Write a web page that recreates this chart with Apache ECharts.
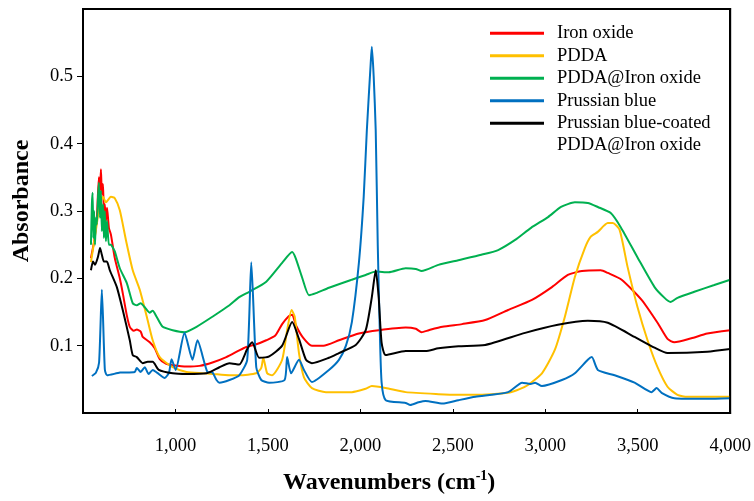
<!DOCTYPE html>
<html>
<head>
<meta charset="utf-8">
<script src="https://cdn.jsdelivr.net/npm/echarts@6/dist/echarts.min.js"></script>
<style>
  html, body { margin: 0; padding: 0; background: #fff; }
  #main { width: 754px; height: 501px; }
</style>
</head>
<body>
<div id="main"></div>
<script>
// names + colours of the five spectra
const seriesNames = [
  "Iron oxide",
  "PDDA",
  "PDDA@Iron oxide",
  "Prussian blue",
  "Prussian blue-coated PDDA@Iron oxide",
];
const seriesColors = ["#FF0000", "#FFC000", "#00B050", "#0070C0", "#000000"];

// tick positions that carry a label
const xTicks = [1000, 1500, 2000, 2500, 3000, 3500, 4000];
const yTicks = [0.1, 0.2, 0.3, 0.4, 0.5];

// [wavenumber (cm-1), absorbance]
const ironOxide = [
  [543, 0.230], [560, 0.255], [575, 0.290], [586, 0.350], [592, 0.330], [597, 0.362],
  [602, 0.325], [608, 0.340], [613, 0.300], [618, 0.310], [624, 0.285], [630, 0.305],
  [640, 0.275], [651, 0.265], [672, 0.230], [699, 0.200], [715, 0.178], [737, 0.145],
  [753, 0.128], [775, 0.122], [791, 0.124], [812, 0.121], [823, 0.113], [861, 0.105],
  [888, 0.096], [915, 0.080], [950, 0.073], [985, 0.071], [1060, 0.069], [1130, 0.070],
  [1200, 0.075], [1275, 0.083], [1345, 0.093], [1383, 0.098], [1437, 0.102], [1491, 0.108],
  [1540, 0.115], [1577, 0.132], [1610, 0.143], [1631, 0.146], [1652, 0.130], [1690, 0.112],
  [1738, 0.100], [1800, 0.100], [1884, 0.108], [1992, 0.118], [2099, 0.123], [2245, 0.127],
  [2300, 0.125], [2331, 0.120], [2370, 0.123], [2444, 0.128], [2550, 0.132], [2675, 0.138],
  [2799, 0.153], [2928, 0.168], [3036, 0.187], [3122, 0.205], [3198, 0.211], [3300, 0.212],
  [3338, 0.208], [3413, 0.198], [3521, 0.168], [3607, 0.134], [3661, 0.110], [3698, 0.105],
  [3790, 0.111], [3876, 0.118], [4000, 0.123],
];
const pdda = [
  [543, 0.224], [570, 0.272], [592, 0.312], [608, 0.321], [624, 0.313], [651, 0.321],
  [672, 0.319], [699, 0.301], [732, 0.257], [769, 0.212], [807, 0.183], [845, 0.143],
  [877, 0.108], [915, 0.083], [985, 0.068], [1060, 0.061], [1146, 0.059], [1200, 0.058],
  [1292, 0.056], [1345, 0.056], [1437, 0.059], [1464, 0.067], [1475, 0.082], [1496, 0.059],
  [1523, 0.056], [1577, 0.079], [1604, 0.123], [1628, 0.153], [1645, 0.143], [1668, 0.089],
  [1695, 0.053], [1738, 0.037], [1814, 0.031], [1954, 0.031], [2029, 0.036], [2062, 0.040],
  [2137, 0.037], [2245, 0.031], [2422, 0.028], [2530, 0.027], [2622, 0.027], [2799, 0.030],
  [2891, 0.039], [2982, 0.059], [3052, 0.094], [3106, 0.143], [3160, 0.202], [3214, 0.245],
  [3246, 0.262], [3284, 0.269], [3338, 0.282], [3365, 0.282], [3402, 0.272], [3445, 0.217],
  [3499, 0.157], [3553, 0.108], [3607, 0.068], [3661, 0.039], [3715, 0.027], [3768, 0.024],
  [4000, 0.024],
];
const pddaIronOxide = [
  [543, 0.250], [548, 0.310], [552, 0.327], [556, 0.260], [560, 0.300], [565, 0.250],
  [570, 0.290], [575, 0.280], [581, 0.320], [586, 0.342], [592, 0.290], [597, 0.330],
  [602, 0.270], [608, 0.310], [613, 0.260], [618, 0.300], [624, 0.255], [630, 0.285],
  [640, 0.250], [651, 0.250], [662, 0.245], [672, 0.240], [699, 0.215], [737, 0.193],
  [769, 0.163], [791, 0.160], [812, 0.163], [834, 0.157], [860, 0.149], [877, 0.152],
  [898, 0.143], [931, 0.128], [985, 0.123], [1049, 0.120], [1114, 0.128], [1200, 0.143],
  [1292, 0.160], [1345, 0.172], [1399, 0.180], [1491, 0.195], [1577, 0.223], [1631, 0.239],
  [1650, 0.230], [1684, 0.202], [1722, 0.175], [1760, 0.178], [1830, 0.186], [1954, 0.198],
  [2029, 0.205], [2083, 0.210], [2153, 0.209], [2245, 0.215], [2300, 0.214], [2331, 0.211],
  [2422, 0.220], [2530, 0.227], [2654, 0.235], [2745, 0.242], [2837, 0.257], [2923, 0.275],
  [3015, 0.291], [3085, 0.306], [3160, 0.313], [3230, 0.312], [3284, 0.306], [3354, 0.297],
  [3408, 0.276], [3499, 0.231], [3591, 0.187], [3645, 0.171], [3677, 0.165], [3715, 0.171],
  [3806, 0.180], [3914, 0.190], [4000, 0.198],
];
const prussianBlue = [
  [548, 0.055], [570, 0.060], [587, 0.075], [602, 0.183], [618, 0.065], [630, 0.056],
  [700, 0.060], [780, 0.061], [791, 0.067], [812, 0.061], [834, 0.068], [855, 0.058],
  [877, 0.064], [900, 0.060], [942, 0.052], [965, 0.060], [979, 0.080], [1001, 0.064],
  [1049, 0.119], [1092, 0.079], [1119, 0.108], [1173, 0.061], [1200, 0.060], [1222, 0.049],
  [1238, 0.045], [1292, 0.049], [1345, 0.056], [1388, 0.079], [1410, 0.224], [1437, 0.068],
  [1464, 0.049], [1507, 0.045], [1590, 0.049], [1604, 0.083], [1625, 0.059], [1668, 0.079],
  [1695, 0.064], [1738, 0.046], [1830, 0.064], [1884, 0.079], [1922, 0.100], [1954, 0.135],
  [1992, 0.223], [2018, 0.321], [2035, 0.420], [2056, 0.520], [2062, 0.544], [2072, 0.500],
  [2083, 0.420], [2094, 0.250], [2105, 0.123], [2115, 0.045], [2137, 0.019], [2245, 0.015],
  [2270, 0.012], [2315, 0.016], [2352, 0.018], [2444, 0.014], [2530, 0.019], [2622, 0.024],
  [2799, 0.031], [2875, 0.045], [2920, 0.043], [2945, 0.045], [2982, 0.040], [3090, 0.049],
  [3160, 0.059], [3230, 0.079], [3252, 0.083], [3284, 0.064], [3375, 0.056], [3483, 0.045],
  [3575, 0.031], [3602, 0.037], [3629, 0.030], [3698, 0.022], [3876, 0.021], [4000, 0.022],
];
const pbCoated = [
  [543, 0.212], [554, 0.225], [565, 0.220], [581, 0.232], [592, 0.245], [602, 0.235],
  [613, 0.225], [629, 0.225], [645, 0.212], [683, 0.187], [715, 0.153], [753, 0.108],
  [769, 0.086], [791, 0.083], [823, 0.074], [850, 0.076], [877, 0.076], [910, 0.064],
  [985, 0.059], [1060, 0.058], [1168, 0.059], [1238, 0.068], [1292, 0.074], [1345, 0.072],
  [1388, 0.095], [1415, 0.105], [1453, 0.082], [1507, 0.084], [1577, 0.100], [1631, 0.135],
  [1668, 0.110], [1706, 0.079], [1738, 0.074], [1830, 0.082], [1884, 0.089], [1975, 0.101],
  [2029, 0.123], [2062, 0.172], [2083, 0.212], [2099, 0.172], [2115, 0.104], [2137, 0.086],
  [2245, 0.092], [2352, 0.092], [2422, 0.096], [2530, 0.099], [2675, 0.101], [2891, 0.119],
  [3068, 0.131], [3230, 0.137], [3338, 0.134], [3483, 0.113], [3591, 0.097], [3661, 0.089],
  [3876, 0.091], [4000, 0.095],
];
const seriesData = [ironOxide, pdda, pddaIronOxide, prussianBlue, pbCoated];

const serif = "Liberation Serif";
const chart = echarts.init(document.getElementById("main"));

const withComma = (v) => String(v).replace(/\B(?=(\d{3})+(?!\d))/g, ",");
const frameLine = { show: true, onZero: false, lineStyle: { color: "#000", width: 2 } };

const option = {
  animation: false,
  grid: {
    left: 83,
    right: 21,
    top: 9,
    bottom: 88,
    show: true,
    borderColor: "#000",
    borderWidth: 2,
    backgroundColor: "transparent",
    z: 10,
  },
  xAxis: [
    {
      type: "value",
      min: 500,
      max: 4000,
      interval: 500,
      axisLine: frameLine,
      axisTick: {
        show: true,
        inside: true,
        length: 4,
        customValues: xTicks,
        lineStyle: { color: "#000" },
      },
      splitLine: { show: false },
      axisLabel: {
        color: "#000",
        fontFamily: serif,
        fontSize: 18.5,
        margin: 24,
        customValues: xTicks,
        formatter: (v) => withComma(v),
      },
    },
    {
      // top edge of the frame
      type: "value",
      position: "top",
      min: 500,
      max: 4000,
      axisLine: frameLine,
      axisTick: { show: false },
      axisLabel: { show: false },
      splitLine: { show: false },
    },
  ],
  yAxis: [
    {
      type: "value",
      min: 0,
      max: 0.6,
      interval: 0.1,
      axisLine: frameLine,
      axisTick: { show: true, length: 6, customValues: yTicks, lineStyle: { color: "#000" } },
      splitLine: { show: false },
      axisLabel: {
        color: "#000",
        fontFamily: serif,
        fontSize: 18.5,
        margin: 10,
        customValues: yTicks,
        formatter: (v) => v.toFixed(1),
      },
    },
    {
      // right edge of the frame
      type: "value",
      position: "right",
      min: 0,
      max: 0.6,
      axisLine: frameLine,
      axisTick: { show: false },
      axisLabel: { show: false },
      splitLine: { show: false },
    },
  ],
  legend: {
    orient: "vertical",
    left: 490,
    top: 22,
    padding: 0,
    itemWidth: 54,
    itemHeight: 3,
    itemGap: 0,
    icon: "rect",
    data: seriesNames,
    formatter: (name) => (name === seriesNames[4] ? "Prussian blue-coated" : name),
    textStyle: {
      color: "#000",
      fontFamily: serif,
      fontSize: 18.5,
      lineHeight: 22.5,
      padding: [0, 0, 0, 8],
    },
  },
  graphic: [
    {
      // second line of the last legend entry
      type: "text",
      left: 557,
      top: 136,
      style: {
        text: "PDDA@Iron oxide",
        fill: "#000",
        fontFamily: serif,
        fontSize: 18.5,
      },
    },
    {
      type: "text",
      left: 283,
      top: 469,
      style: {
        text: "{a|Wavenumbers (cm}{s|-1}{a|)}",
        rich: {
          a: { fontFamily: serif, fontWeight: "bold", fontSize: 24, fill: "#000", lineHeight: 28 },
          s: {
            fontFamily: serif,
            fontWeight: "bold",
            fontSize: 14,
            fill: "#000",
            lineHeight: 28,
            verticalAlign: "top",
            padding: [0, 0, 10, 0],
          },
        },
      },
    },
    {
      type: "text",
      x: 22,
      y: 201,
      rotation: Math.PI / 2,
      style: {
        text: "Absorbance",
        fill: "#000",
        fontFamily: serif,
        fontWeight: "bold",
        fontSize: 24,
        align: "center",
        verticalAlign: "middle",
      },
    },
  ],
  series: seriesData.map((d, i) => ({
    name: seriesNames[i],
    type: "line",
    data: d,
    showSymbol: false,
    smooth: 0.2,
    lineStyle: { color: seriesColors[i], width: 2 },
    itemStyle: { color: seriesColors[i] },
  })),
};

chart.setOption(option);
</script>
</body>
</html>
